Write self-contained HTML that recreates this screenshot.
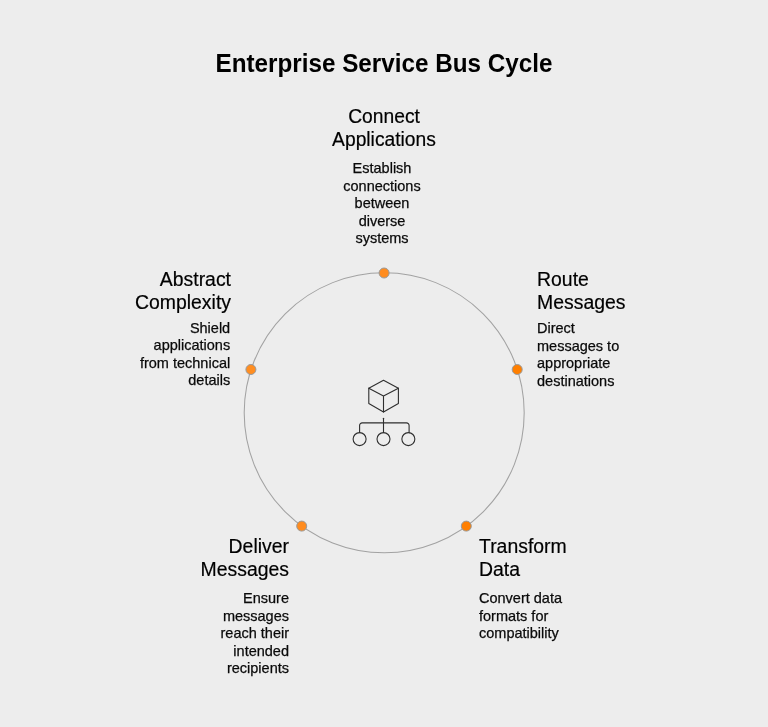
<!DOCTYPE html>
<html><head><meta charset="utf-8">
<style>
html,body{margin:0;padding:0;}
body{width:768px;height:727px;background:#ededed;position:relative;overflow:hidden;font-family:"Liberation Sans",sans-serif;color:#000;}
.t{position:absolute;white-space:nowrap;}
#txt{position:absolute;left:0;top:0;width:768px;height:727px;will-change:transform;}
#title{left:0.4px;width:768px;text-align:center;top:50px;font-size:24px;font-weight:bold;line-height:28px;transform:scale(1.0103,1.06);transform-origin:50% 22px;}
.h{font-size:20px;line-height:23px;transform:scaleX(0.971);-webkit-text-stroke:0.2px #000;}
.h.c{transform-origin:50% 0}.h.l{transform-origin:0 0}.h.r{transform-origin:100% 0}
.d{font-size:14.5px;line-height:17.5px;color:#0a0a0a;-webkit-text-stroke:0.25px #0a0a0a;}
.c{text-align:center}.r{text-align:right}.l{text-align:left}
svg{position:absolute;left:0;top:0;}
</style></head><body>
<svg width="768" height="727" viewBox="0 0 768 727">
<circle cx="384.2" cy="412.8" r="140" fill="none" stroke="#a2a2a2" stroke-width="1.05"/>
<g stroke="#9a9a9a" stroke-width="1">
<circle cx="384.1" cy="273" r="5" fill="#ff8c1f"/>
<circle cx="517.2" cy="369.5" r="5" fill="#ff7f00"/>
<circle cx="466.3" cy="526.1" r="5" fill="#ff7f00"/>
<circle cx="301.7" cy="526.1" r="5" fill="#ff8c1f"/>
<circle cx="250.9" cy="369.5" r="5" fill="#ff8e22"/>
</g>
<g fill="none" stroke="#2e2e2e" stroke-width="1.1" stroke-linejoin="round" stroke-linecap="round">
<path d="M383.5 380.3 L398.4 388.2 L398.4 403.6 L383.5 411.9 L368.8 403.6 L368.8 388.2 Z"/>
<path d="M368.8 388.2 L383.5 396.05 L398.4 388.2 M383.5 396.05 L383.5 411.9"/>
<path d="M383.5 418.2 L383.5 432.6"/>
<path d="M359.6 432.6 L359.6 425.5 A2.6 2.6 0 0 1 362.2 422.9 L406.5 422.9 A2.6 2.6 0 0 1 409.1 425.5 L409.1 432.6"/>
<circle cx="359.6" cy="439.1" r="6.5"/>
<circle cx="383.5" cy="439.1" r="6.5"/>
<circle cx="408.35" cy="439.1" r="6.5"/>
</g>
</svg>
<div id="txt">
<div id="title" class="t">Enterprise Service Bus Cycle</div>

<div class="t h c" style="left:284px;width:200px;top:105px;transform:scaleX(0.963)">Connect<br>Applications</div>
<div class="t d c" style="left:282px;width:200px;top:160px">Establish<br>connections<br>between<br>diverse<br>systems</div>

<div class="t h l" style="left:537px;top:267.6px">Route<br>Messages</div>
<div class="t d l" style="left:537px;top:320px">Direct<br>messages to<br>appropriate<br>destinations</div>

<div class="t h l" style="left:479px;top:535px">Transform<br>Data</div>
<div class="t d l" style="left:479px;top:590px">Convert data<br>formats for<br>compatibility</div>

<div class="t h r" style="left:89px;width:200px;top:535px">Deliver<br>Messages</div>
<div class="t d r" style="left:89px;width:200px;top:590px">Ensure<br>messages<br>reach their<br>intended<br>recipients</div>

<div class="t h r" style="left:31px;width:200px;top:267.6px">Abstract<br>Complexity</div>
<div class="t d r" style="left:30.2px;width:200px;top:319.6px">Shield<br>applications<br>from technical<br>details</div>
</div>
</body></html>
